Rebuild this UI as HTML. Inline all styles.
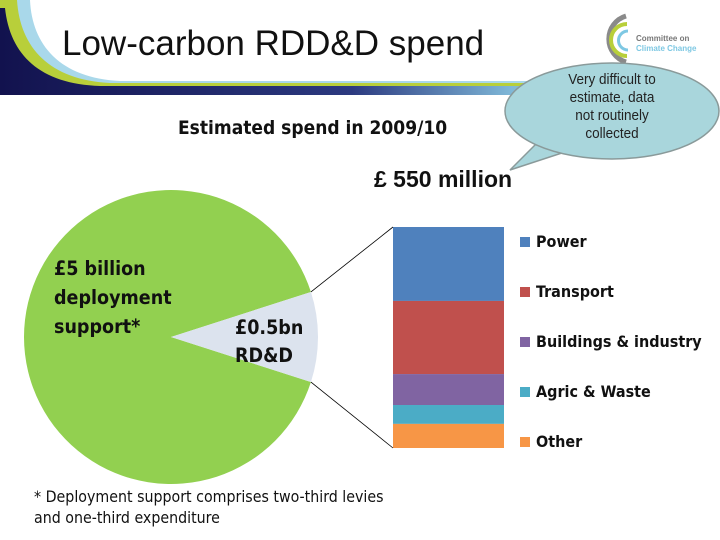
<!DOCTYPE html>
<html><head><meta charset="utf-8"><style>
body{margin:0;width:720px;height:540px;background:#fff;overflow:hidden;position:relative;font-family:"Liberation Sans",sans-serif}
.t{position:absolute;white-space:nowrap}
.b{font-family:"DejaVu Sans Condensed","Liberation Sans",sans-serif;font-weight:bold}
</style></head><body>
<svg width="720" height="540" style="position:absolute;left:0;top:0">
<defs>
<linearGradient id="band" x1="0" x2="640" gradientUnits="userSpaceOnUse"><stop offset="0" stop-color="#12124e"/><stop offset="0.55" stop-color="#2c3a80"/><stop offset="0.8" stop-color="#7fb8d8"/><stop offset="1" stop-color="#c8dc3c" stop-opacity="0"/></linearGradient>
</defs>
<g>
<path d="M0,0 L30,0 C32,45 60,78 120,81 L600,81 L600,95 L0,95Z" fill="#a9d8ea"/>
<path d="M0,0 L17,0 C20,48 50,80 110,83 L600,83 L600,95 L0,95Z" fill="#b8cf3a"/>
<path d="M0,8 L5,8 C10,55 40,84 100,86 L640,86 L640,95 L0,95Z" fill="url(#band)"/>
</g>
<g>
<path d="M626,16 A24,24 0 0 0 626,62" fill="none" stroke="#8a8a8a" stroke-width="5"/>
<path d="M627,24 A16,16 0 0 0 627,56" fill="none" stroke="#b8cf3a" stroke-width="4"/>
<path d="M628,31 A9,9 0 0 0 628,50" fill="none" stroke="#7ec8e3" stroke-width="3"/>
</g>
<g>
<path d="M540,140 L510,170 L565,152Z" fill="#a9d6dc" stroke="#8a9a9a" stroke-width="1.5"/>
<ellipse cx="612" cy="111" rx="107" ry="48" fill="#a9d6dc" stroke="#8a9a9a" stroke-width="1.5"/>
<path d="M541,141 L566,151" stroke="#a9d6dc" stroke-width="3"/>
</g>
<g id="chart"></g>
</svg>
<div class="t" style="left:62px;top:24px;font-size:35px;color:#111">Low-carbon RDD&amp;D spend</div>
<div class="t" style="left:636px;top:34px;font-size:8px;font-weight:bold;color:#777;line-height:10px">Committee on<br><span style="color:#7ec8e3">Climate Change</span></div>
<div class="t" style="left:532px;top:71px;width:160px;text-align:center;font-size:15px;line-height:18px;color:#222;transform:scaleX(0.9);transform-origin:center">Very difficult to<br>estimate, data<br>not routinely<br>collected</div>
<div class="t b" style="left:178px;top:117px;font-size:19px;color:#111">Estimated spend in 2009/10</div>
<div class="t" style="left:374px;top:166px;font-size:23px;font-weight:bold;color:#111">£ 550 million</div>
<div class="t b" style="left:54px;top:254px;font-size:19.5px;line-height:29px;color:#111">£5 billion<br>deployment<br>support*</div>
<div class="t b" style="left:235px;top:314px;font-size:19.5px;line-height:28px;color:#111">£0.5bn<br>RD&amp;D</div>
<div class="t" style="left:34px;top:486px;font-size:15.8px;line-height:21px;color:#111;font-family:'DejaVu Sans Condensed','Liberation Sans',sans-serif">* Deployment support comprises two-third levies<br>and one-third expenditure</div>
<div id="legend"></div>
<script>
const pieLabels=["Deployment support","RD&D"];
const pieValues=[5.0,0.55];
const barCategories=["Power","Transport","Buildings & industry","Agric & Waste","Other"];
const barValues=[184,182,77,47,60];
const barColors=["#4f81bd","#c0504d","#8064a2","#4bacc6","#f79646"];
const pieColors=["#92d050","#dce3ee"];
const NS="http://www.w3.org/2000/svg";
const g=document.getElementById('chart');
function mk(t,a){const e=document.createElementNS(NS,t);for(const k in a)e.setAttribute(k,a[k]);g.appendChild(e);return e;}
const cx=171,cy=337,r=147;
const pTot=pieValues.reduce((a,b)=>a+b,0);
const rdAng=pieValues[1]/pTot*2*Math.PI;
const starts=[rdAng/2, -rdAng/2];
pieValues.forEach((v,i)=>{
  const s=starts[i], e=s+v/pTot*2*Math.PI;
  const x1=cx+r*Math.cos(s),y1=cy+r*Math.sin(s),x2=cx+r*Math.cos(e),y2=cy+r*Math.sin(e);
  const large=(e-s)>Math.PI?1:0;
  const p=mk('path',{d:`M${cx},${cy} L${x1},${y1} A${r},${r} 0 ${large} 1 ${x2},${y2}Z`,fill:pieColors[i]});
  
  
});
const bx=393,bw=111,bTop=227,bBot=448;
const bTot=barValues.reduce((a,b)=>a+b,0);
const ys=v=>(bBot-bTop)*v/bTot;
let y=bTop;
barValues.forEach((v,i)=>{
  const h=ys(v);
  const rc=mk('rect',{x:bx,y:y,width:bw,height:h,fill:barColors[i]});
  
  
  y+=h;
});
const sy1=cy-r*Math.sin(rdAng/2),sx=cx+r*Math.cos(rdAng/2),sy2=cy+r*Math.sin(rdAng/2);
const l1=mk('line',{x1:sx,y1:sy1,x2:bx,y2:bTop,stroke:'#000','stroke-width':0.8});


const l2=mk('line',{x1:sx,y1:sy2,x2:bx,y2:bBot,stroke:'#000','stroke-width':0.8});


const lg=document.getElementById('legend');


barCategories.forEach((c,i)=>{
  const d=document.createElement('div');
  d.className='t b';
  d.style.cssText=`left:520px;top:${232+i*50}px;font-size:16px;color:#111`;
  d.innerHTML=`<span style="display:inline-block;width:10px;height:10px;background:${barColors[i]};margin-right:6px"></span>`+c.replace('&','&amp;');
  
  
  lg.appendChild(d);
});
</script>
</body></html>
